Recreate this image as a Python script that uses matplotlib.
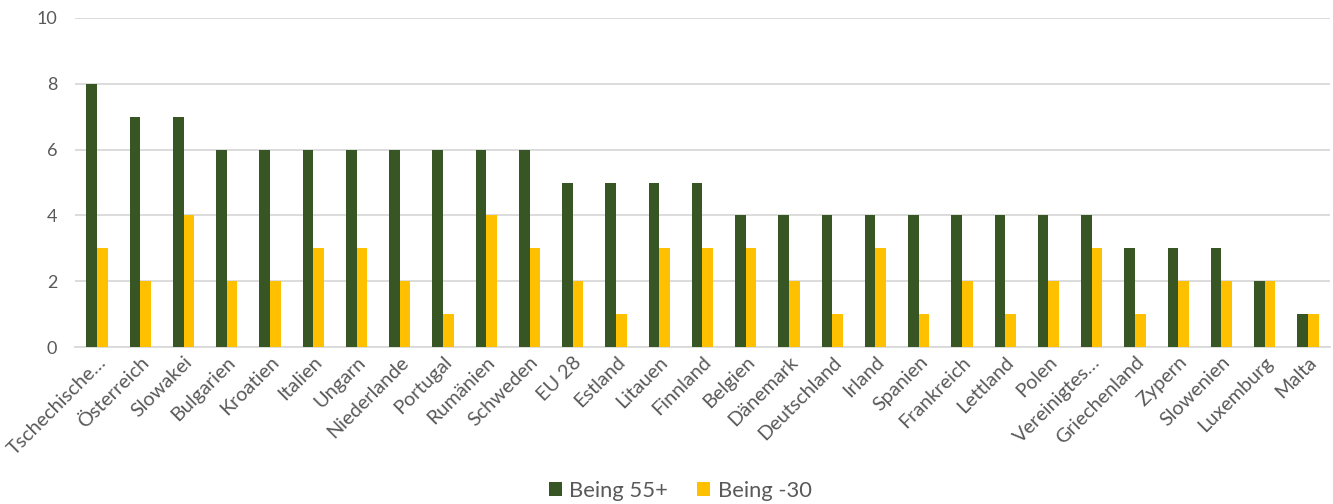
import matplotlib
matplotlib.use("Agg")
import matplotlib.pyplot as plt
import matplotlib.transforms as mtrans
import numpy as np
from matplotlib.patches import Patch

categories = ["Tschechische…", "Österreich", "Slowakei", "Bulgarien", "Kroatien", "Italien",
              "Ungarn", "Niederlande", "Portugal", "Rumänien", "Schweden", "EU 28", "Estland",
              "Litauen", "Finnland", "Belgien", "Dänemark", "Deutschland", "Irland", "Spanien",
              "Frankreich", "Lettland", "Polen", "Vereinigtes…", "Griechenland", "Zypern",
              "Slowenien", "Luxemburg", "Malta"]
being_55 = [8, 7, 7, 6, 6, 6, 6, 6, 6, 6, 6, 5, 5, 5, 5, 4, 4, 4, 4, 4, 4, 4, 4, 4, 3, 3, 3, 2, 1]
being_30 = [3, 2, 4, 2, 2, 3, 3, 2, 1, 4, 3, 2, 1, 3, 3, 3, 2, 1, 3, 1, 2, 1, 2, 3, 1, 2, 2, 2, 1]
series_names = ["Being 55+", "Being -30"]
yticks = [0, 2, 4, 6, 8, 10]

GREEN = "#375623"
YELLOW = "#FFC000"
TXT = "#595959"
GRID = "#D9D9D9"

plt.rcParams['font.family'] = ['Lato', 'DejaVu Sans']

fig = plt.figure(figsize=(13.33, 5.04), dpi=100)
ax = fig.add_axes([75.4 / 1333, 1 - 347 / 504, (1329.6 - 75.4) / 1333, (347 - 18) / 504])

x = np.arange(len(categories))
w = 0.245
ax.bar(x - w / 2, being_55, width=w, color=GREEN, zorder=3)
ax.bar(x + w / 2, being_30, width=w, color=YELLOW, zorder=3)

ax.set_xlim(-0.5, len(categories) - 0.5)
ax.set_ylim(0, 10)
ax.set_yticks(yticks)
ax.set_yticklabels([str(v) for v in yticks], fontsize=13, color=TXT)
ax.yaxis.grid(True, color=GRID, linewidth=1.3, zorder=0)
ax.tick_params(axis='y', length=0, pad=13)
for s in ["top", "right", "left"]:
    ax.spines[s].set_visible(False)
ax.spines["bottom"].set_color(GRID)
ax.spines["bottom"].set_linewidth(1.3)

ax.set_xticks(x)
ax.set_xticklabels(categories, rotation=45, ha='right', va='center',
                   rotation_mode='anchor', fontsize=14.3, color=TXT)
ax.tick_params(axis='x', length=0, pad=9)
offset = mtrans.ScaledTranslation(6 / 100, 0, fig.dpi_scale_trans)
for lbl in ax.get_xticklabels():
    lbl.set_transform(lbl.get_transform() + offset)

handles = [Patch(facecolor=GREEN), Patch(facecolor=YELLOW)]
fig.legend(handles, series_names, loc='center', bbox_to_anchor=(680 / 1333, 1 - 491 / 504),
           ncol=2, frameon=False, fontsize=15.8, labelcolor=TXT,
           handlelength=0.6, handleheight=0.6, handletextpad=0.35, columnspacing=1.3)

fig.savefig("out.png", dpi=100)
